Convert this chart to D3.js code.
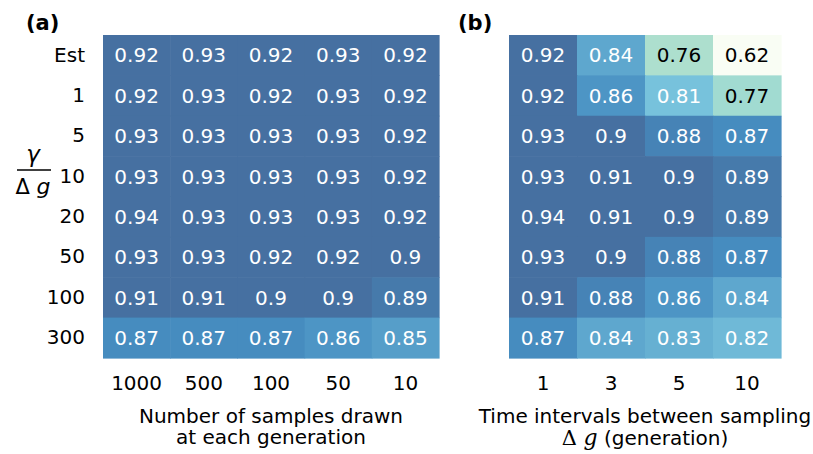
<!DOCTYPE html>
<html>
<head>
<meta charset="utf-8">
<script src="https://cdn.jsdelivr.net/npm/d3@7"></script>
<style>
  body { margin: 0; background: #fff; }
  text { font-family: "DejaVu Sans", sans-serif; }
</style>
</head>
<body>
<svg id="chart" width="813" height="454"></svg>
<script>
// rows shared by both panels (gamma / delta g)
var rowLabels = ["Est", "1", "5", "10", "20", "50", "100", "300"];

// panel (a): number of samples drawn
var colsA = ["1000", "500", "100", "50", "10"];
var valuesA = [
    [0.92, 0.93, 0.92, 0.93, 0.92],
    [0.92, 0.93, 0.92, 0.93, 0.92],
    [0.93, 0.93, 0.93, 0.93, 0.92],
    [0.93, 0.93, 0.93, 0.93, 0.92],
    [0.94, 0.93, 0.93, 0.93, 0.92],
    [0.93, 0.93, 0.92, 0.92, 0.90],
    [0.91, 0.91, 0.90, 0.90, 0.89],
    [0.87, 0.87, 0.87, 0.86, 0.85]
];

// panel (b): time intervals between sampling
var colsB = ["1", "3", "5", "10"];
var valuesB = [
    [0.92, 0.84, 0.76, 0.62],
    [0.92, 0.86, 0.81, 0.77],
    [0.93, 0.90, 0.88, 0.87],
    [0.93, 0.91, 0.90, 0.89],
    [0.94, 0.91, 0.90, 0.89],
    [0.93, 0.90, 0.88, 0.87],
    [0.91, 0.88, 0.86, 0.84],
    [0.87, 0.84, 0.83, 0.82]
];

var vmin = 0.65, vmax = 0.90;
var gnbu = d3.schemeGnBu[9];
var color = d3.scaleLinear()
    .domain(gnbu.map(function(d, i){ return vmin + i * (vmax - vmin) / 8; }))
    .range(gnbu)
    .clamp(true);

// cells are drawn at 75% opacity over white
function blended(c){
    var rgb = d3.rgb(c);
    return d3.rgb(0.75 * rgb.r + 63.75, 0.75 * rgb.g + 63.75, 0.75 * rgb.b + 63.75).formatHex();
}

function luminance(c){
    var rgb = d3.rgb(c);
    var ch = [rgb.r, rgb.g, rgb.b].map(function(v){
        v = v / 255;
        return v <= 0.03928 ? v / 12.92 : Math.pow((v + 0.055) / 1.055, 2.4);
    });
    return 0.2126 * ch[0] + 0.7152 * ch[1] + 0.0722 * ch[2];
}

var svg = d3.select("#chart");
var mapTop = 35, mapBottom = 358;

function heatmap(x0, x1, cols, values, showRows){
    var x = d3.scaleBand().domain(cols).range([x0, x1]);
    var y = d3.scaleBand().domain(rowLabels).range([mapTop, mapBottom]);
    var g = svg.append("g");

    var cells = [];
    values.forEach(function(row, i){
        row.forEach(function(v, j){
            cells.push({row: rowLabels[i], col: cols[j], value: v});
        });
    });

    g.selectAll("rect").data(cells).enter().append("rect")
        .attr("x", function(d){ return x(d.col); })
        .attr("y", function(d){ return y(d.row); })
        .attr("width", x.bandwidth() + 0.6)
        .attr("height", y.bandwidth() + 0.6)
        .attr("fill", function(d){ return blended(color(d.value)); });

    g.selectAll("text.val").data(cells).enter().append("text")
        .attr("class", "val")
        .attr("x", function(d){ return x(d.col) + x.bandwidth() / 2; })
        .attr("y", function(d){ return y(d.row) + y.bandwidth() / 2; })
        .attr("dy", "0.36em")
        .attr("text-anchor", "middle")
        .style("font-size", "20px")
        .attr("fill", function(d){ return luminance(color(d.value)) > 0.408 ? "#000" : "#fff"; })
        .text(function(d){ return String(d.value); });

    var xAxis = g.append("g")
        .attr("transform", "translate(0," + mapBottom + ")")
        .call(d3.axisBottom(x).tickSize(0).tickPadding(18));
    xAxis.select(".domain").remove();
    xAxis.selectAll("text").style("font-size", "20px").attr("fill", "#000")
        .style("font-family", "DejaVu Sans, sans-serif");

    if (showRows){
        var yAxis = g.append("g")
            .attr("transform", "translate(" + x0 + ",0)")
            .call(d3.axisLeft(y).tickSize(0).tickPadding(18));
        yAxis.select(".domain").remove();
        yAxis.selectAll("text").style("font-size", "20px").attr("fill", "#000")
            .style("font-family", "DejaVu Sans, sans-serif");
    }
    return (x0 + x1) / 2;
}

var cxA = heatmap(103, 439, colsA, valuesA, true);
var cxB = heatmap(509, 781, colsB, valuesB, false);

// panel letters
svg.append("text").attr("x", 26).attr("y", 30)
    .style("font-size", "21px").style("font-weight", "bold").text("(a)");
svg.append("text").attr("x", 458).attr("y", 30)
    .style("font-size", "21px").style("font-weight", "bold").text("(b)");

// x axis titles
function title(cx, yy, str){
    return svg.append("text").attr("x", cx).attr("y", yy)
        .attr("text-anchor", "middle").style("font-size", "20px").text(str);
}
title(cxA, 423, "Number of samples drawn");
title(cxA, 444, "at each generation");
title(cxB, 423, "Time intervals between sampling");
var lineB = title(cxB, 445, null);
lineB.append("tspan").style("font-family", "DejaVu Serif, serif").style("font-size", "21px").text("\u0394 ");
lineB.append("tspan").style("font-family", "DejaVu Serif, serif").style("font-style", "italic").style("font-size", "22px").text("g");
lineB.append("tspan").text(" (generation)");

// y axis label: gamma over delta g
var frac = svg.append("g").style("font-family", "DejaVu Serif, serif");
frac.append("text").attr("x", 33).attr("y", 162).attr("text-anchor", "middle")
    .style("font-size", "23px").style("font-style", "italic").text("\u03b3");
frac.append("line").attr("x1", 17).attr("x2", 51).attr("y1", 170).attr("y2", 170)
    .attr("stroke", "#000").attr("stroke-width", 1.3);
var den = frac.append("text").attr("x", 33).attr("y", 194).attr("text-anchor", "middle")
    .style("font-size", "22px");
den.append("tspan").style("font-size", "21px").text("\u0394 ");
den.append("tspan").style("font-style", "italic").text("g");
</script>
</body>
</html>
